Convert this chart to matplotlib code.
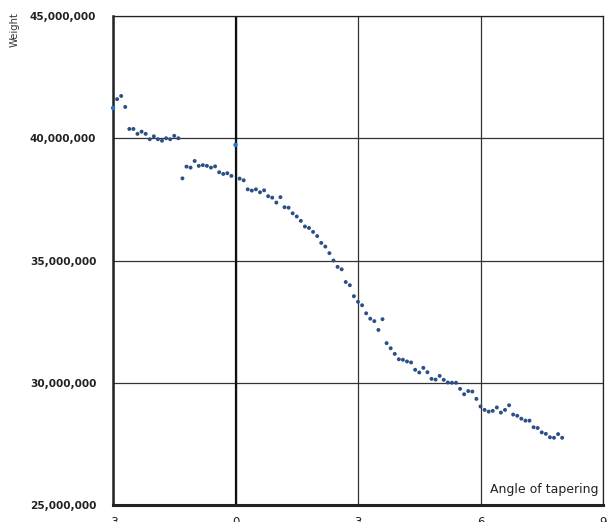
import matplotlib
matplotlib.use("Agg")
import matplotlib.pyplot as plt
from matplotlib.ticker import FuncFormatter

plt.rcParams["axes.unicode_minus"] = False

# Data (angle of tapering vs weight)
angle = [
    -3.0, -2.9, -2.8, -2.7, -2.6, -2.5, -2.4, -2.3, -2.2, -2.1,
    -2.0, -1.9, -1.8, -1.7, -1.6, -1.5, -1.4, -1.3, -1.2, -1.1,
    -1.0, -0.9, -0.8, -0.7, -0.6, -0.5, -0.4, -0.3, -0.2, -0.1,
    0.0, 0.1, 0.2, 0.3, 0.4, 0.5, 0.6, 0.7, 0.8, 0.9,
    1.0, 1.1, 1.2, 1.3, 1.4, 1.5, 1.6, 1.7, 1.8, 1.9,
    2.0, 2.1, 2.2, 2.3, 2.4, 2.5, 2.6, 2.7, 2.8, 2.9,
    3.0, 3.1, 3.2, 3.3, 3.4, 3.5, 3.6, 3.7, 3.8, 3.9,
    4.0, 4.1, 4.2, 4.3, 4.4, 4.5, 4.6, 4.7, 4.8, 4.9,
    5.0, 5.1, 5.2, 5.3, 5.4, 5.5, 5.6, 5.7, 5.8, 5.9,
    6.0, 6.1, 6.2, 6.3, 6.4, 6.5, 6.6, 6.7, 6.8, 6.9,
    7.0, 7.1, 7.2, 7.3, 7.4, 7.5, 7.6, 7.7, 7.8, 7.9, 8.0,
]
weight_millions = [
    41.24, 41.60, 41.73, 41.28, 40.38, 40.38, 40.18, 40.27, 40.18, 39.96,
    40.08, 39.96, 39.90, 40.00, 39.96, 40.10, 40.00, 38.36, 38.84, 38.80,
    39.07, 38.87, 38.90, 38.87, 38.80, 38.85, 38.61, 38.54, 38.57, 38.46,
    39.73, 38.35, 38.28, 37.91, 37.86, 37.91, 37.79, 37.87, 37.63, 37.57,
    37.37, 37.59, 37.18, 37.16, 36.93, 36.80, 36.62, 36.39, 36.33, 36.17,
    36.00, 35.72, 35.57, 35.30, 35.00, 34.74, 34.64, 34.12, 33.99, 33.54,
    33.31, 33.17, 32.84, 32.62, 32.52, 32.16, 32.60, 31.62, 31.41, 31.18,
    30.96, 30.94, 30.87, 30.83, 30.53, 30.42, 30.61, 30.43, 30.16, 30.13,
    30.28, 30.12, 30.01, 30.00, 30.00, 29.75, 29.53, 29.66, 29.64, 29.34,
    29.03, 28.89, 28.82, 28.85, 28.99, 28.78, 28.89, 29.08, 28.70, 28.65,
    28.53, 28.45, 28.45, 28.18, 28.15, 27.97, 27.91, 27.77, 27.75, 27.90, 27.75,
]
highlight_angles = [-3.0, 0.0]

x_ticks = [-3, 0, 3, 6, 9]
y_ticks = [25_000_000, 30_000_000, 35_000_000, 40_000_000, 45_000_000]

weight = [w * 1_000_000 for w in weight_millions]

fig = plt.figure(figsize=(6.07, 5.22), dpi=100)
ax = fig.add_axes([113 / 607, 1 - 505 / 522, (603 - 113) / 607, (505 - 16) / 522])

normal = [(a, w) for a, w in zip(angle, weight) if a not in highlight_angles]
hl = [(a, w) for a, w in zip(angle, weight) if a in highlight_angles]

ax.scatter([p[0] for p in normal], [p[1] for p in normal], s=8, color="#2c4f86",
           edgecolors="none", zorder=3)
ax.scatter([p[0] for p in hl], [p[1] for p in hl], s=10, color="#1d78d0",
           edgecolors="none", zorder=5, clip_on=False)

ax.set_xlim(-3, 9)
ax.set_ylim(25_000_000, 45_000_000)
ax.set_xticks(x_ticks)
ax.set_yticks(y_ticks)
ax.yaxis.set_major_formatter(FuncFormatter(lambda v, p: f"{int(v):,}"))
ax.grid(True, color="#333333", linewidth=0.9)
ax.set_axisbelow(True)
ax.axvline(0, color="#111111", linewidth=1.6, zorder=2)

ax.tick_params(axis="both", length=0)
ax.tick_params(axis="y", pad=12, labelsize=7.6)
ax.tick_params(axis="x", pad=8, labelsize=8.5)
for lbl in ax.get_yticklabels():
    lbl.set_fontweight("bold")
    lbl.set_color("#222222")
for lbl in ax.get_xticklabels():
    lbl.set_color("#222222")

for side, lw in (("left", 1.8), ("bottom", 2.2), ("top", 0.9), ("right", 0.9)):
    ax.spines[side].set_linewidth(lw)
    ax.spines[side].set_color("#222222")

ax.text(0.99, 0.031, "Angle of tapering", transform=ax.transAxes, ha="right",
        va="center", fontsize=9, color="#222222")
fig.text(15 / 607, 1 - 30 / 522, "Weight", rotation=90, ha="center", va="center",
         fontsize=7.2, color="#333333")

fig.savefig("out.png", dpi=100)
